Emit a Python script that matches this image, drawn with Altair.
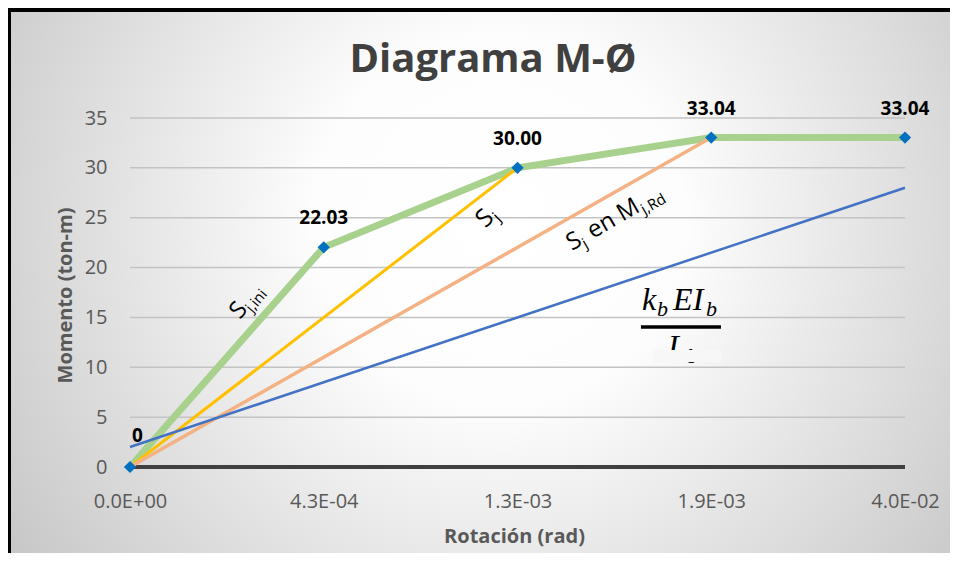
import json
import altair as alt
import pandas as pd

# ---------------- data ----------------
categories = ["0.0E+00", "4.3E-04", "1.3E-03", "1.9E-03", "4.0E-02"]
cat_index = [0, 1, 2, 3, 4]
moment = [0, 22.03, 30.00, 33.04, 33.04]
point_labels = ["0", "22.03", "30.00", "33.04", "33.04"]

sj_x = [0, 2]
sj_y = [0, 30.00]
sjrd_x = [0, 3]
sjrd_y = [0, 33.04]
kb_x = [0, 4]
kb_y = [2.0, 28.0]

y_ticks = [0, 5, 10, 15, 20, 25, 30, 35]
grid_values = [5, 10, 15, 20, 25, 30, 35]

# ---------------- layout ----------------
W, H = 775, 349
FONT = "Open Sans"
xs = alt.Scale(domain=[0, 4], nice=False, zero=False)
ys = alt.Scale(domain=[0, 35], nice=False, zero=False)

label_expr = json.dumps(categories) + "[datum.value]"

x_axis = alt.Axis(
    values=cat_index, labelExpr=label_expr, title="Rotación (rad)",
    grid=False, ticks=False, tickSize=0, domain=False,
    labelFont=FONT, labelFontSize=20, labelColor="#595959", labelPadding=24,
    labelFlush=False, labelOverlap=False, labelBound=False,
    titleFont=FONT, titleFontSize=20, titleFontWeight="bold", titleColor="#595959",
    titleX=384, titleY=75, titleBaseline="alphabetic", titleAlign="center",
    zindex=1,
)
y_axis = alt.Axis(
    values=y_ticks, title="Momento (ton-m)",
    grid=False, ticks=False, tickSize=0, domain=False,
    labelFont=FONT, labelFontSize=20, labelColor="#595959", labelPadding=23,
    titleFont=FONT, titleFontSize=20, titleFontWeight="bold", titleColor="#595959",
    titleX=-59, titleY=177, titleBaseline="alphabetic", titleAlign="center",
    titleAngle=270, zindex=1,
)


def X(field="x"):
    return alt.X(f"{field}:Q", scale=xs, axis=x_axis)


def Y(field="y"):
    return alt.Y(f"{field}:Q", scale=ys, axis=y_axis)


# background with radial gradient and frame
bg = alt.Chart(pd.DataFrame({"a": [0]})).mark_rect(
    fill={
        "gradient": "radial",
        "x1": 0.48, "y1": 0.36, "r1": 0,
        "x2": 0.48, "y2": 0.36, "r2": 0.6,
        "stops": [
            {"offset": 0, "color": "#ffffff"},
            {"offset": 0.3, "color": "#fdfdfd"},
            {"offset": 1, "color": "#c4c4c4"},
        ],
    },
    stroke="black", strokeWidth=4,
).encode(x=alt.value(-121), x2=alt.value(900), y=alt.value(-108), y2=alt.value(600))

# gridlines and x axis line
grid = alt.Chart(pd.DataFrame({"g": grid_values})).mark_rule(
    color="#c3c3c3", strokeWidth=1.5
).encode(y=Y("g"))
zero_line = alt.Chart(pd.DataFrame({"g": [0]})).mark_rule(
    color="#404040", strokeWidth=4
).encode(y=Y("g"))

main_df = pd.DataFrame({"x": cat_index, "y": moment, "lab": point_labels})

green = alt.Chart(main_df).mark_line(color="#a9d18e", strokeWidth=7).encode(
    x=X(), y=Y()
)
yellow = alt.Chart(pd.DataFrame({"x": sj_x, "y": sj_y})).mark_line(
    color="#ffc000", strokeWidth=3
).encode(x=X(), y=Y())
orange = alt.Chart(pd.DataFrame({"x": sjrd_x, "y": sjrd_y})).mark_line(
    color="#f4b183", strokeWidth=3.5
).encode(x=X(), y=Y())
blue = alt.Chart(pd.DataFrame({"x": kb_x, "y": kb_y})).mark_line(
    color="#4472c4", strokeWidth=2.5
).encode(x=X(), y=Y())
points = alt.Chart(main_df).mark_point(
    shape="diamond", filled=True, size=150, color="#0070c0", opacity=1
).encode(x=X(), y=Y())

labels_main = alt.Chart(main_df.iloc[1:]).mark_text(
    font=FONT, fontSize=19, fontWeight="bold", color="black",
    align="center", baseline="alphabetic", dy=-23,
).encode(x=X(), y=Y(), text="lab:N")
label_zero = alt.Chart(main_df.iloc[:1]).mark_text(
    font=FONT, fontSize=19, fontWeight="bold", color="black",
    align="left", baseline="alphabetic", dx=2, dy=-25,
).encode(x=X(), y=Y(), text="lab:N")


def txt(x, y, text, size, angle=0, dx=0, dy=0, font=FONT, style="normal"):
    return alt.Chart(pd.DataFrame({"x": [x], "y": [y], "t": [text]})).mark_text(
        font=font, fontSize=size, fontStyle=style, color="black",
        align="left", baseline="alphabetic", angle=angle, dx=dx, dy=dy,
    ).encode(x=X(), y=Y(), text="t:N")


SERIF = "Liberation Serif"
annotations = [
    # S_j,ini
    txt(0.568, 14.74, "S", 24, angle=310),
    txt(0.568, 14.74, "j,ini", 15, angle=310, dx=13, dy=5),
    # S_j
    txt(1.835, 23.9, "S", 25, angle=315),
    txt(1.835, 23.9, "j", 16, angle=315, dx=14, dy=5),
    # S_j en M_j,Rd
    txt(2.281, 21.66, "S", 24, angle=330),
    txt(2.281, 21.66, "j", 15, angle=330, dx=13, dy=5),
    txt(2.281, 21.66, "en M", 24, angle=330, dx=24),
    txt(2.281, 21.66, "j,Rd", 15, angle=330, dx=81, dy=5),
    # k_b E I_b / L_b
    txt(2.643, 15.75, "k", 32, font=SERIF, style="italic"),
    txt(2.643, 15.75, "b", 22, dx=15, dy=6, font=SERIF, style="italic"),
    txt(2.643, 15.75, "EI", 32, dx=31, font=SERIF, style="italic"),
    txt(2.643, 15.75, "b", 22, dx=64, dy=6, font=SERIF, style="italic"),
    txt(2.643, 11.03, "L", 32, dx=26, font=SERIF, style="italic"),
    txt(2.643, 11.03, "b", 22, dx=45, dy=6, font=SERIF, style="italic"),
]

frac_line = alt.Chart(pd.DataFrame({"x": [2.637], "x2": [3.05], "y": [14.04]})).mark_rule(
    color="black", strokeWidth=3.5
).encode(x=X(), x2="x2:Q", y=Y())

cover = alt.Chart(pd.DataFrame({"x": [2.70], "x2": [3.05], "y": [11.73], "y2": [10.53]})).mark_rect(
    color="#f7f7f7"
).encode(x=X(), x2="x2:Q", y=Y(), y2="y2:Q")

title = alt.Chart(pd.DataFrame({"t": ["Diagrama M-Ø"]})).mark_text(
    font=FONT, fontSize=40, fontWeight="bold", color="#404040",
    align="center", baseline="alphabetic",
).encode(x=alt.value(363), y=alt.value(-46), text="t:N")

chart = alt.layer(
    bg, grid, zero_line, green, yellow, orange, blue, points,
    labels_main, label_zero, *annotations, frac_line, cover, title,
).properties(
    width=W, height=H,
    padding={"left": 122, "top": 110, "right": 45, "bottom": 86},
    autosize=alt.AutoSizeParams(type="none"),
    background="white",
).configure_view(stroke=None)

chart.save("out.html", embed_options={"renderer": "svg", "actions": False})
